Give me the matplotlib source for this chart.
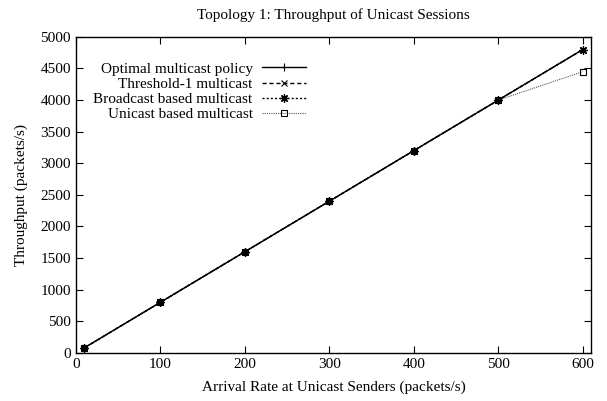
import numpy as np
import matplotlib.pyplot as plt

plt.rcParams['font.family'] = ['Liberation Serif', 'DejaVu Serif']

rate = [10, 100, 200, 300, 400, 500, 600]
optimal = [80, 800, 1600, 2400, 3200, 4000, 4800]
threshold1 = [80, 800, 1600, 2400, 3200, 4000, 4800]
broadcast = [80, 800, 1600, 2400, 3200, 4000, 4800]
unicast = [80, 800, 1600, 2400, 3200, 4000, 4450]

fig = plt.figure(figsize=(6.07, 4.01), dpi=100)
ax = fig.add_axes([0.125, 0.12, 0.849, 0.788])

ax.plot(rate, optimal, color='black', lw=1.0, marker='+', ms=6, mew=0.8,
        label='Optimal multicast policy', zorder=4)
ax.plot(rate, threshold1, color='black', lw=1.0, ls=(0, (3, 2)), marker='x', ms=4, mew=0.8,
        label='Threshold-1 multicast', zorder=4)
ax.plot(rate, broadcast, color='black', lw=1.0, ls=(0, (1.5, 1.5)), marker=(8, 2, 0), ms=6, mew=0.9,
        label='Broadcast based multicast', zorder=4)
ax.plot(rate, unicast, color='#555555', lw=0.8, ls=(0, (1, 1)), marker='s', ms=5,
        mfc='none', mec='black', mew=0.8, label='Unicast based multicast', zorder=3)

ax.set_xlim(0, 610)
ax.set_ylim(0, 5000)
ax.set_xticks(np.arange(0, 601, 100))
ax.set_yticks(np.arange(0, 5001, 500))
ax.tick_params(direction='in', top=True, right=True, labelsize=11, length=5)
for s in ax.spines.values():
    s.set_linewidth(1.0)

ax.set_xlabel('Arrival Rate at Unicast Senders (packets/s)', fontsize=11, labelpad=7)
ax.set_ylabel('Throughput (packets/s)', fontsize=11, labelpad=9)
ax.set_title('Topology 1: Throughput of Unicast Sessions', fontsize=11, pad=13)

ax.legend(loc='upper right', bbox_to_anchor=(306 / 607, 1 - 62 / 401),
          bbox_transform=fig.transFigure, frameon=False,
          markerfirst=False, fontsize=11, handlelength=2.9, labelspacing=0.1,
          handletextpad=0.6, borderpad=0, borderaxespad=0)

fig.savefig('out.png', dpi=100)
